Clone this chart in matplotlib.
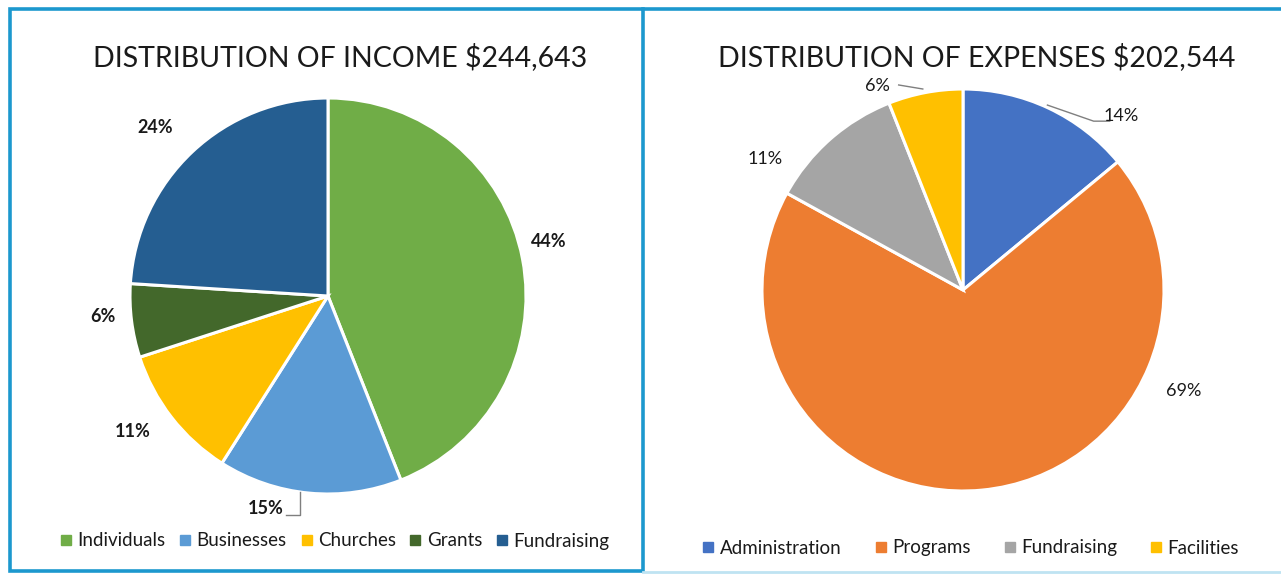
import matplotlib
matplotlib.use("Agg")
import matplotlib.pyplot as plt
from matplotlib.patches import Rectangle
from matplotlib.lines import Line2D
import numpy as np

# ---------------- data ----------------
income_title = "DISTRIBUTION OF INCOME $244,643"
income_labels = ["Individuals", "Businesses", "Churches", "Grants", "Fundraising"]
income_values = [44, 15, 11, 6, 24]

expense_title = "DISTRIBUTION OF EXPENSES $202,544"
expense_labels = ["Administration", "Programs", "Fundraising", "Facilities"]
expense_values = [14, 69, 11, 6]

# ---------------- style ----------------
income_colors = ["#70AD47", "#5B9BD5", "#FFC000", "#43682B", "#255E91"]
expense_colors = ["#4472C4", "#ED7D31", "#A5A5A5", "#FFC000"]
FONT = "Lato"
plt.rcParams["font.family"] = [FONT, "DejaVu Sans"]

W, H = 1281, 574
fig = plt.figure(figsize=(W / 100, H / 100), dpi=100)
fig.patch.set_facecolor("white")

def px_axes(cx, cy, r):
    return fig.add_axes([(cx - r) / W, (H - cy - r) / H, 2 * r / W, 2 * r / H])

# panel borders
border = "#1C98CE"
fig.add_artist(Rectangle((10 / W, (H - 571) / H), 633 / W, 562 / H,
                         transform=fig.transFigure, fill=False,
                         edgecolor=border, linewidth=2.6))
fig.add_artist(Line2D([643 / W, 1.0], [(H - 9) / H] * 2, transform=fig.transFigure,
                      color=border, linewidth=2.6))
fig.add_artist(Line2D([643 / W, 1.0], [(H - 572) / H] * 2, transform=fig.transFigure,
                      color="#BFE3F2", linewidth=2.0))

# label placement (angle offset in deg from wedge middle, radial distance)
income_label_pos = [(3, 1.15), (-11, 1.12), (-3, 1.20), (-2, 1.14), (2.6, 1.22)]
expense_label_pos = [(-17, 1.17), (60, 1.21), (15, 1.18), (12, 1.10)]

def draw_pie(cx, cy, r, values, colors, label_pos, bold):
    ax = px_axes(cx, cy, r)
    wedges, _ = ax.pie(values, colors=colors, startangle=90, counterclock=False,
                       radius=1.0, wedgeprops=dict(edgecolor="white", linewidth=2.2))
    ax.set_xlim(-1, 1)
    ax.set_ylim(-1, 1)
    ax.set_aspect("auto")
    ax.axis("off")
    for w, v, (off, dist) in zip(wedges, values, label_pos):
        mid = np.deg2rad((w.theta1 + w.theta2) / 2 + off)
        ax.text(dist * np.cos(mid), dist * np.sin(mid), f"{v}%",
                ha="center", va="center", fontsize=13,
                fontweight="bold" if bold else "normal", color="#1a1a1a",
                clip_on=False)
    return ax, wedges

ax1, w1 = draw_pie(328, 296, 198, income_values, income_colors, income_label_pos, True)
ax2, w2 = draw_pie(963, 290, 201, expense_values, expense_colors, expense_label_pos, False)

# leader lines (Businesses on income; Administration & Facilities on expenses)
def leader(ax, pts):
    ax.plot([p[0] for p in pts], [p[1] for p in pts], color="#7f7f7f",
            linewidth=1.0, clip_on=False)

leader(ax1, [(-0.21, -1.105), (-0.14, -1.105), (-0.14, -0.99)])
leader(ax2, [(0.42, 0.92), (0.65, 0.84), (0.73, 0.84)])
leader(ax2, [(-0.32, 1.02), (-0.20, 1.00)])

# titles
fig.text(340 / W, 1 - 57 / H, income_title, ha="center", va="center",
         fontsize=20.5, color="#1a1a1a")
fig.text(977 / W, 1 - 57 / H, expense_title, ha="center", va="center",
         fontsize=20.5, color="#1a1a1a")

# legends
def legend(handles_colors, labels, cx, cy, spacing):
    handles = [Line2D([], [], marker="s", linestyle="none", markersize=6.5,
                      markerfacecolor=c, markeredgecolor=c) for c in handles_colors]
    fig.legend(handles, labels, loc="center", bbox_to_anchor=(cx / W, 1 - cy / H),
               ncol=len(labels), frameon=False, fontsize=13.5,
               handletextpad=0.1, columnspacing=spacing, handlelength=1.0,
               labelcolor="#1a1a1a")

legend(income_colors, income_labels, 333, 541, 0.55)
legend(expense_colors, expense_labels, 969, 548, 1.6)

fig.savefig("out.png", dpi=100, facecolor="white")
